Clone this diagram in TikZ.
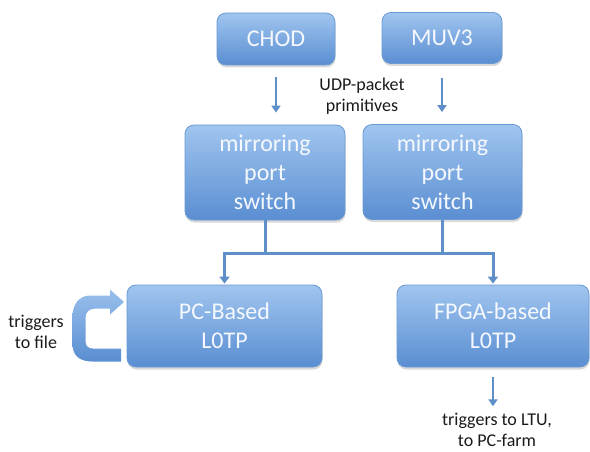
\documentclass[tikz,border=0pt]{standalone}
\usepackage{fontspec}
\setmainfont{Carlito}
\usetikzlibrary{arrows.meta,shadows}
\definecolor{boxtop}{HTML}{A0C5EF}
\definecolor{boxbot}{HTML}{5A8ED2}
\definecolor{boxedge}{HTML}{6A9AD3}
\definecolor{boxtext}{HTML}{F5F8FD}
\definecolor{linec}{HTML}{5F8FC8}
\definecolor{labc}{HTML}{1A1A1A}
\tikzset{
  blk/.style={draw=boxedge, line width=0.8pt, rounded corners=9pt, top color=boxtop, bottom color=boxbot,
    text=boxtext, align=center, inner sep=0pt,
    drop shadow={opacity=0.3, shadow xshift=0.5pt, shadow yshift=-2.5pt},
    font=\fontsize{24}{29}\selectfont},
  lab/.style={text=labc, align=center, inner sep=0pt, font=\fontsize{18}{20.5}\selectfont},
  tree/.style={draw=linec, line width=3pt},
  thinarr/.style={draw=linec, line width=2pt, -{Triangle[width=9pt,length=7pt]}},
  thickarr/.style={draw=linec, line width=3pt, -{Triangle[width=10pt,length=7pt]}},
}
\begin{document}
\begin{tikzpicture}[x=1pt,y=-1pt]
\useasboundingbox (0,0) rectangle (590,452);
% top boxes
\node[blk, minimum width=118pt, minimum height=52pt] (chod) at (276,39) {CHOD};
\node[blk, minimum width=120pt, minimum height=51pt] (muv) at (442,38) {MUV3};
% switches
\node[blk, minimum width=160pt, minimum height=95pt] (sw1) at (265,172.5) {mirroring\\port\\switch};
\node[blk, minimum width=159pt, minimum height=95pt] (sw2) at (442.5,172) {mirroring\\port\\switch};
% L0TP boxes
\node[blk, minimum width=195pt, minimum height=82pt] (pc) at (224.5,326) {PC-Based\\L0TP};
\node[blk, minimum width=192pt, minimum height=82pt] (fpga) at (493,326) {FPGA-based\\L0TP};
% labels
\node[lab] (udp) at (362,96) {UDP-packet\\primitives};
\node[lab] (tfile) at (36,332) {triggers\\to file};
\node[lab] (tltu) at (497,430) {triggers to LTU,\\to PC-farm};
% arrows from detectors
\draw[thinarr, shorten <=12pt, shorten >=12pt] (chod.south) -- (chod.south |- sw1.north);
\draw[thinarr, shorten <=14pt, shorten >=12pt] (muv.south) -- (muv.south |- sw2.north);
% tree
\coordinate (hl) at (224.5,253);
\coordinate (hr) at (493,253);
\draw[tree] (sw1.south) -- (sw1.south |- hl);
\draw[tree] (sw2.south) -- (sw2.south |- hl);
\draw[tree, line cap=rect] (hl) -- (hr);
\draw[thickarr, shorten >=1pt] (hl) -- (pc.north);
\draw[thickarr, shorten >=1pt] (hr) -- (fpga.north);
% output arrow
\draw[thinarr, shorten <=10pt, shorten >=7pt] (fpga.south) -- (fpga.south |- tltu.north);
% curved arrow triggers to file
\shade[top color=boxtop!90!boxbot, bottom color=boxbot]
  (121,361.5) -- (92,361.5) .. controls (79,361.5) and (72.5,355) .. (72.5,344)
  -- (72.5,316) .. controls (72.5,305) and (79,295.5) .. (90,295.5)
  -- (110,295.5) -- (110,289.5) -- (124,302) -- (110,314.5) -- (110,308.5)
  -- (96,308.5) .. controls (89,308.5) and (85.5,312) .. (85.5,318)
  -- (85.5,341) .. controls (85.5,346) and (88,348.5) .. (93,348.5)
  -- (121,348.5) -- cycle;
\end{tikzpicture}
\end{document}
